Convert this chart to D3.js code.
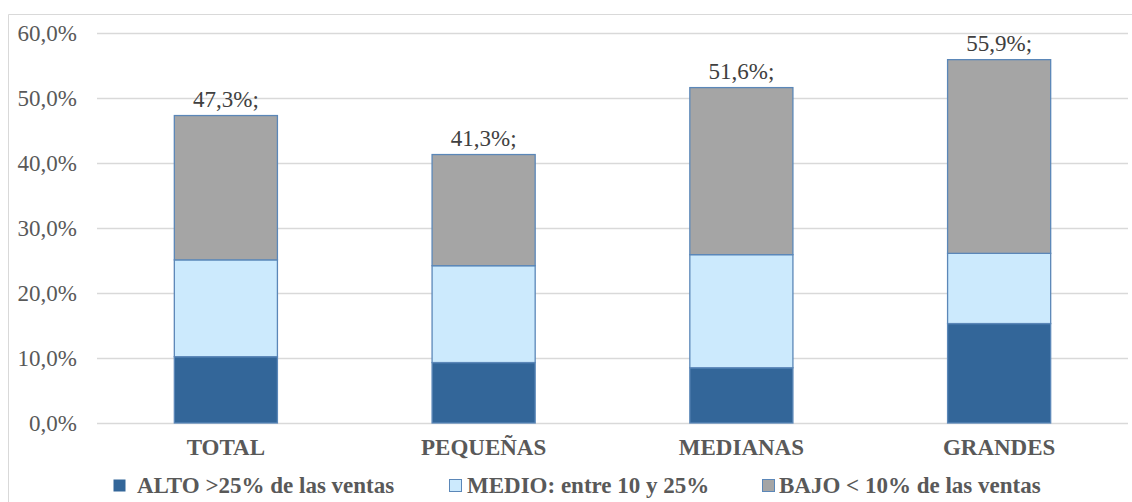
<!DOCTYPE html>
<html>
<head>
<meta charset="utf-8">
<script src="https://cdn.jsdelivr.net/npm/d3@7"></script>
</head>
<body style="margin:0; background:#fff">
<div id="chart"></div>
<script>
// Data
var categories = ["TOTAL", "PEQUEÑAS", "MEDIANAS", "GRANDES"];
var alto  = [10.2, 9.3, 8.5, 15.3];
var medio = [14.9, 14.9, 17.4, 10.8];
var bajo  = [22.2, 17.1, 25.7, 29.8];
var totals = [47.3, 41.3, 51.6, 55.9];
var seriesNames = ["ALTO >25% de las ventas", "MEDIO: entre 10 y 25%", "BAJO < 10% de las ventas"];
var yTicks = [0, 10, 20, 30, 40, 50, 60];

var colors = ["#336699", "#cceafd", "#a5a5a5"];
var FONT = "'Liberation Serif', 'Times New Roman', serif";

var W = 1132, H = 502;
var margin = { left: 97, right: 4, top: 33, bottom: 79 };
var width = W - margin.left - margin.right;
var height = H - margin.top - margin.bottom;

var svg = d3.select("#chart").append("svg")
  .attr("width", W)
  .attr("height", H)
  .style("font-family", FONT);

// outer frame (left + top visible)
svg.append("path")
  .attr("d", "M8.5," + H + "V14.5H" + W)
  .attr("fill", "none")
  .attr("stroke", "#d9d9d9")
  .attr("stroke-width", 1);

var g = svg.append("g")
  .attr("transform", "translate(" + margin.left + "," + margin.top + ")");

var x = d3.scaleBand()
  .domain(categories)
  .range([0, width])
  .paddingInner(0.6)
  .paddingOuter(0.3);

var y = d3.scaleLinear()
  .domain([0, 60])
  .range([height, 0]);

var fmt = function(v) { return d3.format(".1f")(v).replace(".", ",") + "%"; };

// gridlines
g.selectAll(".grid")
  .data(yTicks)
  .enter().append("line")
  .attr("x1", 0)
  .attr("x2", width)
  .attr("y1", function(d) { return Math.round(y(d)) + 0.5; })
  .attr("y2", function(d) { return Math.round(y(d)) + 0.5; })
  .attr("stroke", "#d9d9d9")
  .attr("stroke-width", 1.5);

// y axis labels
var yAxis = d3.axisLeft(y).tickValues(yTicks).tickFormat(fmt).tickSize(0).tickPadding(20);
var yg = g.append("g").call(yAxis).attr("font-family", null);
yg.select(".domain").remove();
yg.selectAll("text")
  .style("font-family", FONT)
  .style("font-size", "23px")
  .attr("fill", "#595959");

// x axis labels
var xAxis = d3.axisBottom(x).tickSize(0).tickPadding(16);
var xg = g.append("g").attr("transform", "translate(0," + height + ")").call(xAxis).attr("font-family", null);
xg.select(".domain").remove();
xg.selectAll("text")
  .style("font-family", FONT)
  .style("font-size", "23px")
  .style("font-weight", "bold")
  .attr("fill", "#595959");

// stack
var rows = categories.map(function(c, i) {
  return { cat: c, alto: alto[i], medio: medio[i], bajo: bajo[i] };
});
var layers = d3.stack().keys(["alto", "medio", "bajo"])(rows);

g.selectAll(".layer")
  .data(layers)
  .enter().append("g")
  .attr("fill", function(d, i) { return colors[i]; })
  .selectAll("rect")
  .data(function(d) { return d; })
  .enter().append("rect")
  .attr("x", function(d) { return x(d.data.cat); })
  .attr("y", function(d) { return y(d[1]); })
  .attr("width", x.bandwidth())
  .attr("height", function(d) { return y(d[0]) - y(d[1]); })
  .attr("stroke", "#5b87b8")
  .attr("stroke-width", 1.3);

// total labels
g.selectAll(".total")
  .data(categories)
  .enter().append("text")
  .attr("x", function(d) { return x(d) + x.bandwidth() / 2; })
  .attr("y", function(d, i) { return y(totals[i]) - 9; })
  .attr("text-anchor", "middle")
  .style("font-family", FONT)
  .style("font-size", "23px")
  .attr("fill", "#404040")
  .text(function(d, i) { return fmt(totals[i]) + ";"; });

// legend
var legendX = [113, 449, 762];
var legendTextX = [137, 467, 779];
var legend = svg.selectAll(".legend")
  .data(seriesNames)
  .enter().append("g")
  .attr("transform", function(d, i) { return "translate(" + legendX[i] + ",479)"; });

legend.append("rect")
  .attr("x", 0.5)
  .attr("y", 0.5)
  .attr("width", 12)
  .attr("height", 12)
  .attr("fill", function(d, i) { return colors[i]; })
  .attr("stroke", function(d, i) { return i === 0 ? "none" : "#5b87b8"; })
  .attr("stroke-width", 1);

legend.append("text")
  .attr("x", function(d, i) { return legendTextX[i] - legendX[i]; })
  .attr("y", 14)
  .style("font-family", FONT)
  .style("font-size", "23px")
  .style("font-weight", "bold")
  .attr("fill", "#595959")
  .text(function(d) { return d; });
</script>
</body>
</html>
